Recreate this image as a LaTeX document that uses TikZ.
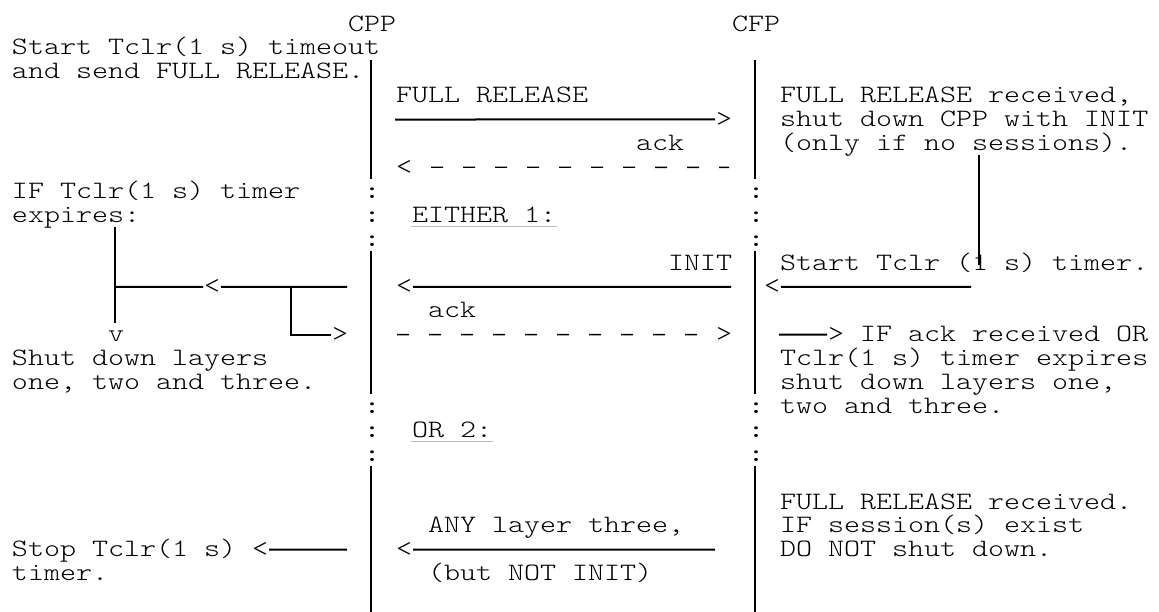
\documentclass[tikz,border=0pt]{standalone}
\usepackage{fontspec}
\setmonofont{lmmonolt10-regular.otf}[FakeStretch=1.22]
\newfontfamily\dotfont{lmmono10-regular.otf}[FakeStretch=1.22]
\tikzset{
  txt/.style={font=\ttfamily\fontsize{12.5}{12}\selectfont,inner sep=0pt,anchor=base west},
  tip/.style={txt,text height=7.2pt,text depth=0pt},
  dots/.style={txt,font=\dotfont\fontsize{12.5}{12}\selectfont},
  dsh/.style={line width=0.7pt,dash pattern=on 6pt off 10pt},
  uline/.style={line width=0.5pt,draw=black!27},
}
\begin{document}
\begin{tikzpicture}[x=8pt,y=-11.95pt,line width=1pt]
\def\b{0.3}
\useasboundingbox (-0.6875,-1.0) rectangle (71.75,24.6);
% lifelines
\foreach \a/\z in {1.5/6.5,9.5/15.5,18.5/24.6} {
  \draw (22.5,\a) -- (22.5,\z);
  \draw (46.5,\a) -- (46.5,\z);
}
\foreach \r in {7,8,9,16,17,18} {
  \node[dots] (cppd\r) at (22,\r+\b) {:};
  \node[dots] (cfpd\r) at (46,\r+\b) {:};
}
\node[txt] (cpp) at (21,0+\b) {CPP};
\node[txt] (cfp) at (45,0+\b) {CFP};
% CPP side
\node[txt] (l1) at (0,1+\b) {Start Tclr(1 s) timeout};
\node[txt] (l2) at (0,2+\b) {and send FULL RELEASE.};
\node[txt] (l7) at (0,7+\b) {IF Tclr(1 s) timer};
\node[txt] (l8) at (0,8+\b) {expires:};
\coordinate (exA) at (6.5,8.5);
\coordinate (exJ) at (6.5,11);
\coordinate (exB) at (6.5,12.5);
\draw (exA) -- (exB);
\node[txt] (lv) at (6,13+\b) {v};
\node[tip] (lt11) at (12,11+\b) {<};
\coordinate (brJ) at (17.5,11);
\coordinate (brE) at (21,11);
\draw (exJ) -- (lt11.west);
\draw (lt11.east) -- (brE);
\node[tip] (gt13) at (20,13+\b) {>};
\draw (brJ) |- (gt13.west);
\node[txt] (l14) at (0,14+\b) {Shut down layers};
\node[txt] (l15) at (0,15+\b) {one, two and three.};
\node[txt] (l22) at (0,22+\b) {Stop Tclr(1 s)};
\node[txt] (l23) at (0,23+\b) {timer.};
\node[tip] (lt22) at (15,22+\b) {<};
\coordinate (spE) at (21,22);
\draw (lt22.east) -- (spE);
% messages
\node[txt] (m3) at (24,3+\b) {FULL RELEASE};
\coordinate (frS) at (24,4);
\node[tip] (gt4) at (44,4+\b) {>};
\draw (frS) -- (gt4.west);
\node[txt] (m5) at (39,5+\b) {ack};
\node[tip] (lt6) at (24,6+\b) {<};
\coordinate (akE) at (44.875,6);
\draw[dsh,dash phase=7pt] (lt6.east) -- (akE);
\node[txt] (ei) at (25,8+\b) {EITHER 1:};
\draw[uline] ([yshift=-2pt]ei.base west) -- ([yshift=-2pt]ei.base east);
\node[txt] (init) at (41,10+\b) {INIT};
\node[tip] (lt11m) at (24,11+\b) {<};
\coordinate (inE) at (45,11);
\draw (lt11m.east) -- (inE);
\node[txt] (m12) at (26,12+\b) {ack};
\coordinate (akS) at (24.125,13);
\node[tip] (gt13m) at (44,13+\b) {>};
\draw[dsh] (akS) -- (gt13m.west);
\node[txt] (or) at (25,17+\b) {OR 2:};
\draw[uline] ([yshift=-2pt]or.base west) -- ([yshift=-2pt]or.base east);
\node[txt] (m21) at (26,21+\b) {ANY layer three,};
\node[tip] (lt22m) at (24,22+\b) {<};
\coordinate (anE) at (44,22);
\draw (lt22m.east) -- (anE);
\node[txt] (m23) at (26,23+\b) {(but NOT INIT)};
% CFP side
\node[txt] (r3) at (48,3+\b) {FULL RELEASE received,};
\node[txt] (r4) at (48,4+\b) {shut down CPP with INIT};
\node[txt] (r5) at (48,5+\b) {(only if no sessions).};
\coordinate (seA) at (60.5,5.5);
\coordinate (seB) at (60.5,10.1);
\draw (seA) -- (seB);
\node[txt] (r10) at (48,10+\b) {Start Tclr (1 s) timer.};
\node[tip] (lt11r) at (47,11+\b) {<};
\coordinate (stE) at (60,11);
\draw (lt11r.east) -- (stE);
\coordinate (ifS) at (48,13);
\node[tip] (gt13r) at (51,13+\b) {>};
\draw (ifS) -- (gt13r.west);
\node[txt] (r13) at (53,13+\b) {IF ack received OR};
\node[txt] (r14) at (48,14+\b) {Tclr(1 s) timer expires};
\node[txt] (r15) at (48,15+\b) {shut down layers one,};
\node[txt] (r16) at (48,16+\b) {two and three.};
\node[txt] (r20) at (48,20+\b) {FULL RELEASE received.};
\node[txt] (r21) at (48,21+\b) {IF session(s) exist};
\node[txt] (r22) at (48,22+\b) {DO NOT shut down.};
\end{tikzpicture}
\end{document}
